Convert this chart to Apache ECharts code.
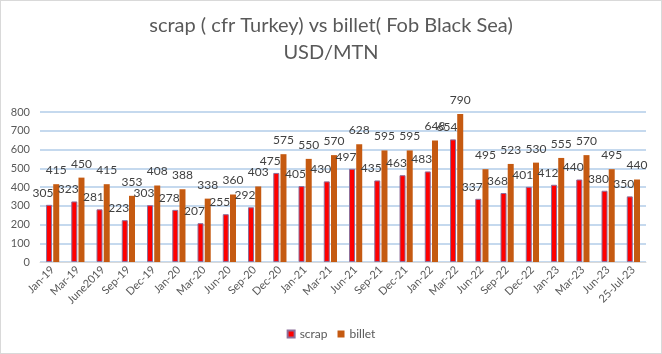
<!DOCTYPE html>
<html>
<head>
<meta charset="utf-8">
<script src="https://cdn.jsdelivr.net/npm/echarts@6/dist/echarts.min.js"></script>
<style>
    html, body { margin: 0; padding: 0; background: #fff; }
    #main { width: 660px; height: 352px; border: 1px solid #d9d9d9; }
</style>
</head>
<body>
<div id="main"></div>
<script>
var categories = ['Jan-19', 'Mar-19', 'June2019', 'Sep-19', 'Dec-19', 'Jan-20', 'Mar-20', 'Jun-20', 'Sep-20', 'Dec-20',
    'Jan-21', 'Mar-21', 'Jun-21', 'Sep-21', 'Dec-21', 'Jan-22', 'Mar-22', 'Jun-22', 'Sep-22', 'Dec-22',
    'Jan-23', 'Mar-23', 'Jun-23', '25-Jul-23'];
var scrap = [305, 323, 281, 223, 303, 278, 207, 255, 292, 475, 405, 430, 497, 435, 463, 483, 654, 337, 368, 401, 412, 440, 380, 350];
var billet = [415, 450, 415, 353, 408, 388, 338, 360, 403, 575, 550, 570, 628, 595, 595, 648, 790, 495, 523, 530, 555, 570, 495, 440];
var yTicks = [0, 100, 200, 300, 400, 500, 600, 700, 800];

var chart = echarts.init(document.getElementById('main'));
var font = 'Lato, "Open Sans", sans-serif';

var option = {
    animation: false,
    textStyle: { fontFamily: font },
    title: {
        text: 'scrap ( cfr Turkey) vs billet( Fob Black Sea)\nUSD/MTN',
        left: 'center',
        top: 6,
        textStyle: {
            color: '#595959',
            fontSize: 20,
            fontWeight: 'normal',
            lineHeight: 27,
            fontFamily: font
        }
    },
    legend: {
        bottom: 8,
        left: 'center',
        itemWidth: 7,
        itemHeight: 7,
        itemGap: 10,
        icon: 'rect',
        textStyle: { color: '#595959', fontSize: 12 },
        data: ['scrap', 'billet']
    },
    grid: {
        left: 39,
        right: 15,
        top: 111,
        bottom: 91
    },
    xAxis: {
        type: 'category',
        data: categories,
        axisLine: { lineStyle: { color: '#d9d9d9' } },
        axisTick: { show: false },
        axisLabel: {
            rotate: 45,
            interval: 0,
            color: '#595959',
            fontSize: 11,
            margin: 6
        }
    },
    yAxis: {
        type: 'value',
        min: yTicks[0],
        max: yTicks[yTicks.length - 1],
        interval: 100,
        axisLine: { show: false },
        axisTick: { show: false },
        axisLabel: { color: '#595959', fontSize: 11, margin: 10 },
        splitLine: { lineStyle: { color: '#c5d9ee', width: 2 } }
    },
    series: [
        {
            name: 'scrap',
            type: 'bar',
            data: scrap,
            barWidth: 6,
            barGap: '20%',
            itemStyle: { color: '#ff0000', borderColor: '#8e6f9a', borderWidth: 1 },
            label: {
                show: true,
                position: 'top',
                offset: [-6, -1],
                color: '#404040',
                fontSize: 12
            }
        },
        {
            name: 'billet',
            type: 'bar',
            data: billet,
            barWidth: 6,
            itemStyle: { color: '#c55a11' },
            label: {
                show: true,
                position: 'top',
                offset: [0, -3],
                color: '#404040',
                fontSize: 12
            }
        }
    ]
};
chart.setOption(option);
</script>
</body>
</html>
